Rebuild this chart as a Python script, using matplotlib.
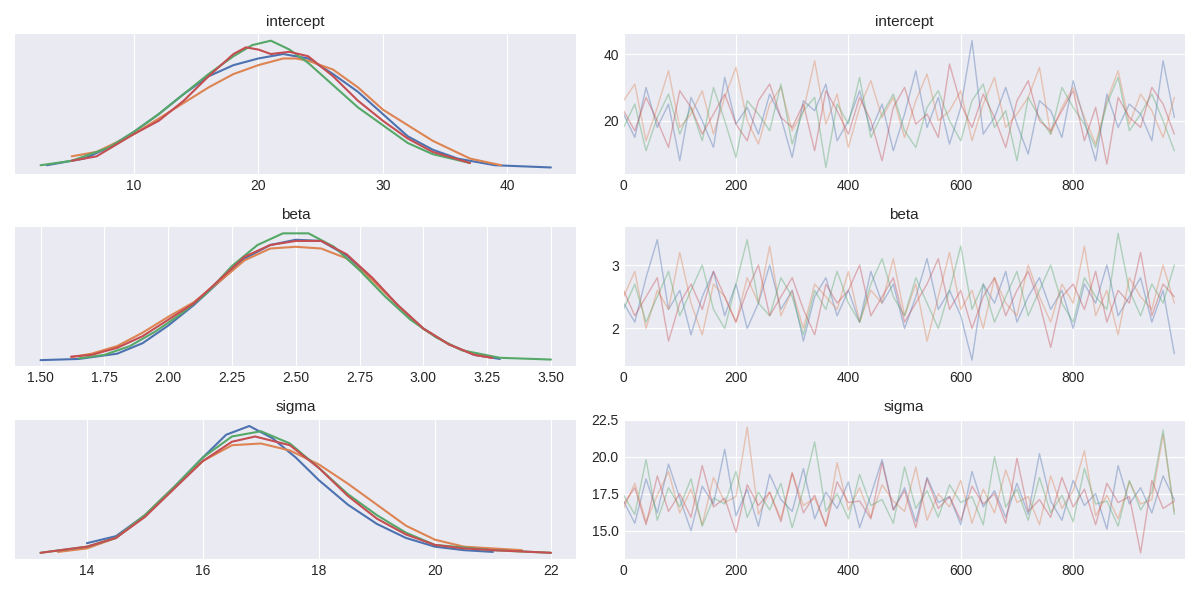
import matplotlib
matplotlib.use('Agg') # 화면 없는 환경에서 저장만 하기 위함

import matplotlib.pyplot as plt
import numpy as np

plt.style.use('seaborn-v0_8-darkgrid')

colors = ['#4c72b0', '#dd8452', '#55a868', '#c44e52']

# -------- 사후분포 KDE ---------------------
kde = {
    'intercept': [
        ([3, 6, 8, 10, 12, 14, 16, 18, 20, 22, 24, 26, 28, 30, 32, 34, 36, 39, 43.5],
         [.002, .005, .010, .017, .025, .034, .042, .047, .050, .052, .050, .043, .035, .025, .015, .009, .005, .002, .001]),
        ([5, 7, 10, 12, 14, 16, 18, 20, 22, 23, 24, 26, 28, 30, 32, 34, 37, 39.5],
         [.006, .008, .016, .023, .030, .037, .043, .047, .050, .050, .049, .045, .037, .027, .020, .013, .005, .002]),
        ([2.5, 5, 8, 10, 12, 14, 16, 18, 19.5, 21, 22.5, 24, 26, 28, 30, 32, 34, 37],
         [.002, .004, .010, .017, .025, .034, .043, .051, .056, .058, .054, .048, .038, .028, .020, .012, .007, .003]),
        ([5, 7, 10, 12, 14, 16, 18, 19, 20, 21, 22.5, 24, 26, 28, 30, 32, 34, 37],
         [.004, .006, .016, .022, .031, .042, .052, .055, .054, .052, .053, .051, .042, .031, .022, .014, .008, .003]),
    ],
    'beta': [
        ([1.5, 1.65, 1.8, 1.9, 2.0, 2.1, 2.2, 2.3, 2.4, 2.5, 2.6, 2.7, 2.8, 2.9, 3.0, 3.1, 3.2, 3.3],
         [.01, .03, .12, .30, .60, .95, 1.35, 1.75, 1.98, 2.07, 2.05, 1.80, 1.40, .95, .55, .28, .10, .03]),
        ([1.62, 1.7, 1.8, 1.9, 2.0, 2.1, 2.2, 2.3, 2.4, 2.5, 2.6, 2.7, 2.8, 2.9, 3.0, 3.1, 3.2, 3.27],
         [.06, .12, .25, .48, .75, 1.00, 1.35, 1.72, 1.92, 1.95, 1.92, 1.75, 1.38, .95, .55, .28, .10, .05]),
        ([1.65, 1.75, 1.85, 1.95, 2.05, 2.15, 2.25, 2.35, 2.45, 2.55, 2.65, 2.75, 2.85, 2.95, 3.05, 3.15, 3.3, 3.5],
         [.04, .10, .25, .50, .80, 1.15, 1.62, 1.98, 2.18, 2.18, 1.95, 1.55, 1.10, .70, .40, .18, .05, .02]),
        ([1.62, 1.7, 1.8, 1.9, 2.0, 2.1, 2.2, 2.3, 2.4, 2.5, 2.6, 2.7, 2.8, 2.9, 3.0, 3.1, 3.2, 3.27],
         [.07, .10, .22, .42, .70, .98, 1.38, 1.78, 1.98, 2.05, 2.05, 1.82, 1.42, .95, .55, .28, .10, .05]),
    ],
    'sigma': [
        ([14.0, 14.5, 15.0, 15.5, 16.0, 16.4, 16.8, 17.2, 17.6, 18.0, 18.5, 19.0, 19.5, 20.0, 20.5, 21.0],
         [.06, .10, .22, .38, .55, .68, .73, .66, .55, .42, .28, .17, .09, .04, .02, .01]),
        ([13.5, 14.0, 14.5, 15.0, 15.5, 16.0, 16.5, 17.0, 17.5, 18.0, 18.5, 19.0, 19.5, 20.0, 20.5, 21.0, 21.5],
         [.01, .03, .09, .22, .38, .53, .62, .63, .59, .51, .40, .28, .16, .08, .04, .03, .02]),
        ([13.2, 14.0, 14.5, 15.0, 15.5, 16.0, 16.5, 17.0, 17.5, 18.0, 18.5, 19.0, 19.5, 20.0, 21.0, 22.0],
         [.005, .04, .09, .22, .38, .55, .67, .70, .63, .49, .34, .22, .12, .05, .02, .005]),
        ([13.2, 14.0, 14.5, 15.0, 15.5, 16.0, 16.5, 16.9, 17.5, 18.0, 18.5, 19.0, 19.5, 20.0, 20.5, 21.0, 22.0],
         [.005, .04, .09, .21, .37, .53, .64, .67, .62, .49, .33, .20, .11, .05, .03, .02, .005]),
    ],
}

# -------- 샘플 트레이스 (20 스텝마다 읽은 값, 체인 4개) ---------
draws = np.arange(0, 1000, 20)
trace = {
    'intercept': [
        [22, 15, 30, 18, 25, 8, 27, 20, 12, 33, 19, 24, 16, 28, 21, 9, 26, 23, 31, 14, 20, 29, 17, 25, 11,
         22, 35, 18, 27, 13, 24, 44, 16, 21, 30, 19, 10, 26, 23, 15, 32, 20, 8, 28, 18, 25, 22, 14, 38, 21],
        [26, 31, 14, 24, 35, 18, 22, 29, 16, 27, 36, 20, 13, 25, 30, 17, 23, 38, 19, 28, 12, 24, 32, 21, 27,
         15, 26, 34, 20, 23, 29, 14, 25, 33, 18, 22, 27, 36, 16, 24, 30, 21, 13, 26, 35, 19, 28, 23, 15, 27],
        [18, 25, 11, 21, 28, 16, 24, 14, 30, 20, 9, 26, 22, 17, 31, 13, 23, 27, 6, 25, 19, 33, 15, 22, 28,
         17, 12, 24, 29, 20, 14, 26, 31, 18, 23, 8, 27, 21, 16, 30, 24, 19, 12, 25, 33, 17, 22, 28, 20, 11],
        [23, 17, 27, 20, 12, 29, 24, 16, 22, 28, 19, 14, 26, 31, 21, 18, 25, 11, 29, 23, 16, 27, 20, 8, 24,
         30, 19, 22, 15, 37, 25, 18, 28, 21, 12, 26, 32, 20, 17, 23, 29, 14, 24, 7, 27, 21, 18, 30, 25, 16],
    ],
    'beta': [
        [2.4, 2.1, 2.8, 3.4, 2.3, 2.6, 1.9, 2.5, 2.9, 2.2, 2.7, 2.0, 2.4, 3.0, 2.3, 2.6, 1.8, 2.5, 2.8, 2.2,
         2.6, 2.1, 2.9, 2.4, 2.7, 2.0, 2.5, 3.1, 2.3, 2.6, 2.2, 1.5, 2.7, 2.4, 2.9, 2.1, 2.5, 2.8, 2.3, 2.6,
         2.0, 2.7, 2.4, 3.0, 2.2, 2.5, 2.8, 2.1, 2.6, 1.6],
        [2.5, 2.9, 2.0, 2.6, 2.3, 3.2, 2.4, 1.9, 2.7, 2.5, 2.1, 2.8, 2.4, 3.3, 2.2, 2.6, 2.0, 2.7, 2.5, 2.3,
         2.9, 2.1, 2.6, 2.4, 3.1, 2.2, 2.7, 1.8, 2.5, 3.2, 2.3, 2.6, 2.0, 2.8, 2.4, 2.2, 3.0, 2.5, 2.1, 2.7,
         2.4, 3.3, 2.2, 2.6, 1.9, 2.8, 2.5, 2.3, 3.0, 2.4],
        [2.3, 2.7, 2.1, 2.5, 2.9, 2.2, 2.6, 3.0, 2.3, 2.0, 2.7, 3.4, 2.4, 2.2, 2.8, 2.5, 1.9, 2.6, 2.3, 2.9,
         2.4, 2.1, 2.7, 3.1, 2.5, 2.2, 2.8, 2.4, 2.0, 2.6, 3.3, 2.3, 2.7, 2.1, 2.5, 2.9, 2.2, 2.6, 3.0, 2.4,
         2.1, 2.8, 2.5, 2.3, 3.5, 2.6, 2.2, 2.7, 2.4, 3.0],
        [2.6, 2.2, 2.5, 2.8, 1.8, 2.4, 2.7, 2.3, 2.9, 2.5, 2.1, 2.6, 3.0, 2.2, 2.5, 2.8, 2.3, 1.9, 2.7, 2.4,
         2.6, 3.0, 2.2, 2.5, 2.8, 2.1, 2.4, 2.7, 3.1, 2.3, 2.6, 2.0, 2.5, 2.8, 2.2, 2.6, 2.9, 2.4, 1.7, 2.5,
         2.7, 2.3, 2.9, 2.1, 2.6, 2.4, 3.2, 2.2, 2.7, 2.5],
    ],
    'sigma': [
        [17.0, 15.5, 18.5, 16.2, 19.5, 17.2, 15.0, 18.0, 16.8, 20.5, 16.0, 17.8, 15.3, 18.8, 17.1, 16.3, 19.2, 15.8,
         17.6, 16.5, 18.3, 15.2, 17.4, 19.8, 16.4, 17.9, 15.6, 18.6, 16.9, 17.3, 15.4, 19.0, 16.6, 17.7, 15.9, 18.2,
         16.1, 20.2, 17.0, 15.7, 18.4, 16.7, 17.5, 15.1, 19.4, 16.8, 17.9, 16.2, 18.7, 17.1],
        [16.5, 18.2, 15.6, 17.4, 19.0, 16.2, 17.8, 15.4, 18.6, 16.9, 17.3, 22.0, 16.1, 17.6, 15.8, 18.9, 16.7, 17.2,
         15.3, 19.6, 16.4, 17.9, 15.9, 18.1, 17.0, 16.3, 19.3, 15.7, 17.5, 16.6, 18.4, 15.5, 17.8, 16.2, 19.1, 16.9,
         17.3, 15.4, 18.7, 16.5, 17.7, 20.4, 16.0, 17.4, 15.8, 18.3, 16.8, 17.1, 21.5, 16.3],
        [17.4, 16.1, 19.8, 15.7, 17.9, 16.6, 18.5, 15.3, 17.2, 16.8, 19.0, 15.9, 17.6, 16.4, 18.2, 15.2, 17.8, 21.0,
         16.3, 17.5, 15.8, 18.8, 16.7, 17.1, 15.5, 19.3, 16.5, 17.7, 15.9, 18.1, 16.9, 17.3, 15.4, 20.0, 16.6, 17.8,
         15.7, 18.6, 16.2, 17.4, 15.6, 19.2, 16.8, 17.0, 15.3, 18.4, 16.4, 17.6, 21.8, 16.1],
        [16.8, 17.9, 15.4, 18.7, 16.3, 17.5, 15.9, 19.4, 16.6, 17.2, 14.9, 18.1, 16.7, 17.6, 15.6, 18.9, 16.2, 17.4,
         15.3, 18.3, 16.9, 17.0, 15.8, 19.6, 16.4, 17.7, 15.2, 18.5, 16.5, 17.3, 15.7, 18.0, 16.8, 17.5, 15.5, 19.9,
         16.3, 17.1, 15.9, 18.6, 16.6, 17.8, 15.4, 18.2, 16.9, 17.3, 13.5, 18.4, 16.5, 17.0],
    ],
}

# --- Figure 셋업 ---
fig, axes = plt.subplots(3, 2, figsize=(12, 5.93), dpi=100)

for row, name in enumerate(['intercept', 'beta', 'sigma']):
    ax_k, ax_t = axes[row]
    for c, (xs, ys) in enumerate(kde[name]):
        ax_k.plot(xs, ys, color=colors[c], lw=1.5)
    ax_k.set_yticks([]) # 밀도 축 눈금 숨기기
    ax_k.set_title(name, fontsize=11)

    for c, vals in enumerate(trace[name]):
        ax_t.plot(draws, vals, color=colors[c], lw=1, alpha=0.4)
    ax_t.set_xlim(0, 999)
    ax_t.set_xticks([0, 200, 400, 600, 800])
    ax_t.set_title(name, fontsize=11)

axes[1, 0].set_xticks([1.5, 1.75, 2.0, 2.25, 2.5, 2.75, 3.0, 3.25, 3.5])
axes[1, 0].set_xticklabels(['1.50', '1.75', '2.00', '2.25', '2.50', '2.75', '3.00', '3.25', '3.50'])
axes[2, 1].set_yticks([15.0, 17.5, 20.0, 22.5])
axes[2, 1].set_yticklabels(['15.0', '17.5', '20.0', '22.5'])
axes[0, 1].set_yticks([20, 40])
axes[1, 1].set_yticks([2, 3])

plt.tight_layout()
plt.savefig('out.png')
